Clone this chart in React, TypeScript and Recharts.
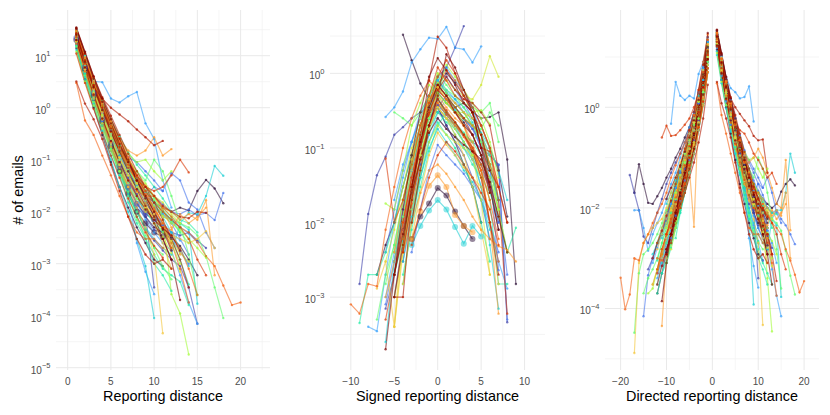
import { LineChart, Line, XAxis, YAxis, CartesianGrid } from "recharts";

const FONT = '"Liberation Sans", Arial, Helvetica, sans-serif';

// turbo palette, purple -> dark red
const turbo = [
  "#30123b", "#4145ab", "#4675ed", "#39a2fc", "#1bcfd4", "#24eca6", "#61fc6c", "#a4fc3b",
  "#d1e834", "#f3c63a", "#fe9b2d", "#f36315", "#d93806", "#b11901", "#7a0403",
];

// ---- panel 1: reporting distance 1, 2, 3, ...
const reporting: number[][] = [
  [18, 4.5, 1.4, 0.5, 0.2, 0.09, 0.05, 0.03, 0.02, 0.015, 0.012, 0.01, 0.012, 0.0105, 0.025, 0.041, 0.028, 0.0145],
  [28, 7.5, 2.2, 0.7, 0.22, 0.07, 0.025, 0.01, 0.0045, 0.0028, 0.0018, 0.0012, 0.0009, 0.00035, 0.00007],
  [22, 6, 2, 0.8, 0.35, 0.15, 0.08, 0.045, 0.03, 0.02, 0.014, 0.01, 0.009, 0.011, 0.0085, 0.0095, 0.0069, 0.023],
  [26, 9, 3.2, 3.1, 1.5, 1.26, 1.66, 2.0, 0.5, 0.25, 0.04, 0.012],
  [15, 4, 1.2, 0.35, 0.1, 0.03, 0.01, 0.003, 0.0009, 0.00009],
  [20, 5, 1.6, 0.5, 0.16, 0.05, 0.015, 0.006, 0.003, 0.0015, 0.0008, 0.0006, 0.00045, 0.00016],
  [24, 7, 2.4, 0.9, 0.4, 0.18, 0.09, 0.05, 0.03, 0.018, 0.012, 0.008, 0.006, 0.005, 0.0035, 0.0014, 0.00035, 0.00009],
  [30, 9, 3, 1.1, 0.45, 0.2, 0.1, 0.06, 0.035, 0.02, 0.008, 0.00026, 0.00011, 0.000018],
  [19, 5.5, 1.8, 0.6, 0.25, 0.1, 0.05, 0.03, 0.02, 0.012, 0.006, 0.002],
  [21, 6, 1.9, 0.65, 0.22, 0.08, 0.03, 0.012, 0.005, 0.0015, 0.000046],
  [25, 7.5, 2.6, 1.0, 0.45, 0.25, 0.15, 0.12, 0.15, 0.27, 0.12, 0.16],
  [17, 5, 1.7, 0.6, 0.22, 0.09, 0.04, 0.025, 0.02, 0.02, 0.012, 0.008, 0.005, 0.004, 0.0026, 0.0014, 0.0009, 0.00038, 0.00016, 0.00018],
  [23, 7, 2.4, 0.9, 0.35, 0.15, 0.07, 0.04, 0.03, 0.025, 0.03, 0.05, 0.1, 0.057],
  [20, 6, 2.5, 1.5, 1.0, 0.74, 0.55, 0.38, 0.27, 0.19, 0.23],
  [35, 12, 4, 1.5, 0.6, 0.25, 0.1, 0.04, 0.018, 0.008, 0.003, 0.0012, 0.0002],
  [14, 3.5, 1, 0.3, 0.09, 0.03, 0.012, 0.005, 0.0025, 0.0012, 0.0009],
  [25, 7, 2.3, 0.8, 0.3, 0.12, 0.05, 0.02, 0.009, 0.00035],
  [18, 5, 1.6, 0.55, 0.2, 0.09, 0.05, 0.03, 0.02, 0.03, 0.025, 0.055, 0.04, 0.015, 0.011, 0.004, 0.002],
  [32, 10, 3, 1.0, 0.35, 0.1, 0.02, 0.0025, 0.0007, 0.00026],
  [16, 4.5, 1.5, 0.6, 0.25, 0.1, 0.05, 0.03, 0.02, 0.012, 0.008, 0.007, 0.006, 0.0095, 0.009, 0.02, 0.076, 0.049],
  [22, 6.5, 2, 0.7, 0.25, 0.08, 0.025, 0.008, 0.003, 0.001, 0.0006, 0.0003],
  [27, 8, 2.8, 1.2, 0.5, 0.2, 0.1, 0.06, 0.04, 0.1, 0.06, 0.02, 0.006, 0.0015, 0.00025],
  [12, 3.2, 1.1, 0.4, 0.15, 0.06, 0.03, 0.018, 0.012, 0.008, 0.004, 0.0025, 0.001],
  [24, 7, 2.2, 0.75, 0.3, 0.14, 0.08, 0.04, 0.03, 0.02, 0.015, 0.009, 0.006],
  [28, 8.5, 3.2, 1.2, 0.5, 0.2, 0.08, 0.035, 0.015, 0.006, 0.0025, 0.0008],
  [20, 5, 1.5, 0.5, 0.18, 0.07, 0.03, 0.015, 0.01, 0.008, 0.012, 0.01, 0.007, 0.009, 0.007, 0.0166, 0.0006],
  [30, 9, 3.1, 1.2, 0.5, 0.22, 0.1, 0.05, 0.025, 0.012, 0.006, 0.0025, 0.0008, 0.00018],
  [26, 8, 2.7, 1.0, 0.4, 0.17, 0.08, 0.04, 0.02, 0.01, 0.005, 0.002],
  [3.2, 1.2, 0.6, 0.25, 0.08, 0.025, 0.008, 0.003, 0.0015, 0.001, 0.0012, 0.0008],
  [33, 11, 3.6, 1.3, 0.5, 0.2, 0.09, 0.04, 0.02, 0.01, 0.0045, 0.0018],
  [20, 6, 1.9, 0.6, 0.2, 0.07, 0.03, 0.015, 0.008, 0.005, 0.004, 0.003],
  [16, 4.5, 1.4, 0.45, 0.15, 0.06, 0.025, 0.012, 0.008, 0.0045, 0.004, 0.0035],
  [23, 6.5, 2.1, 0.8, 0.35, 0.18, 0.11, 0.09, 0.06, 0.04, 0.025],
  [27, 7.5, 2.5, 0.9, 0.3, 0.1, 0.035, 0.015, 0.007, 0.004, 0.0025, 0.0018, 0.0006, 0.00018, 0.00007],
  [13, 3.5, 1.1, 0.36, 0.12, 0.05, 0.022, 0.01, 0.005, 0.003, 0.002, 0.0015, 0.006, 0.0045, 0.00017],
  [29, 8.5, 2.9, 1.1, 0.45, 0.2, 0.09, 0.045, 0.025, 0.016, 0.011, 0.007, 0.004],
  [18, 5, 1.6, 0.5, 0.17, 0.06, 0.02, 0.007, 0.0035, 0.0021, 0.0015],
  [24, 7, 2.6, 1.05, 0.5, 0.25, 0.13, 0.09, 0.1, 0.06, 0.04, 0.06],
  [21, 6, 2, 0.7, 0.27, 0.11, 0.05, 0.025, 0.012, 0.006, 0.0033, 0.0016, 0.0007],
  [19, 5.5, 1.8, 0.6, 0.2, 0.08, 0.035, 0.02, 0.012, 0.01, 0.008, 0.007],
  [31, 9.5, 3.4, 1.3, 0.55, 0.25, 0.11, 0.05, 0.02, 0.009, 0.005, 0.0045, 0.009, 0.006, 0.008, 0.012],
  [3, 0.57, 0.3, 0.12, 0.05, 0.02, 0.008, 0.004, 0.003, 0.003, 0.002],
  [27, 8, 2.8, 1.1, 0.45, 0.2, 0.09, 0.045, 0.025, 0.015, 0.01, 0.007, 0.005, 0.003, 0.0012, 0.0006],
  [34, 11.5, 4, 1.6, 0.7, 0.3, 0.13, 0.06, 0.03, 0.015, 0.007, 0.003, 0.0012, 0.00035],
  [25, 7.5, 2.5, 0.9, 0.35, 0.14, 0.06, 0.027, 0.013, 0.006, 0.003, 0.0012],
  [20, 5.5, 1.7, 0.55, 0.18, 0.06, 0.022, 0.01, 0.006, 0.004, 0.0033],
  [22, 6, 1.9, 0.62, 0.2, 0.075, 0.03, 0.014, 0.009, 0.007],
  [17, 4.8, 1.5, 0.55, 0.22, 0.1, 0.05, 0.03, 0.018, 0.012, 0.009, 0.006, 0.003, 0.0015],
  [26, 8, 2.6, 0.95, 0.38, 0.16, 0.07, 0.032, 0.016, 0.009, 0.006, 0.004, 0.0028],
  [21, 6.2, 2.0, 0.72, 0.28, 0.12, 0.06, 0.035, 0.025, 0.015, 0.008, 0.004, 0.002, 0.0009],
  [30, 10, 3.5, 1.4, 0.6, 0.28, 0.14, 0.08, 0.05, 0.03, 0.018, 0.01, 0.007, 0.006, 0.004],
  [15, 4.2, 1.3, 0.45, 0.16, 0.06, 0.024, 0.01, 0.0045, 0.002, 0.0009, 0.0005],
  [24, 7.2, 2.4, 0.85, 0.33, 0.14, 0.065, 0.035, 0.02, 0.013, 0.0085, 0.006, 0.0045, 0.003, 0.002, 0.0013],
  [28, 9, 3.0, 1.1, 0.42, 0.17, 0.075, 0.035, 0.017, 0.009, 0.005, 0.0028, 0.0016, 0.0011],
  [19, 5.8, 1.9, 0.68, 0.26, 0.11, 0.05, 0.024, 0.013, 0.0075, 0.005, 0.0035, 0.003, 0.0025, 0.003, 0.0042, 0.002],
  [23, 6.8, 2.3, 0.82, 0.34, 0.16, 0.085, 0.05, 0.032, 0.02, 0.011, 0.005, 0.0015],
  [33, 11, 3.8, 1.45, 0.6, 0.26, 0.11, 0.048, 0.022, 0.011, 0.006, 0.0035, 0.002, 0.0008, 0.00025],
  [11, 3, 0.95, 0.33, 0.12, 0.045, 0.018, 0.008, 0.004, 0.0022, 0.0013],
  [27, 8.2, 2.7, 1.0, 0.4, 0.18, 0.09, 0.05, 0.03, 0.02, 0.013, 0.01, 0.008, 0.0075, 0.01, 0.0095],
  [20, 5.9, 1.8, 0.62, 0.23, 0.09, 0.04, 0.02, 0.011, 0.007, 0.0048, 0.0035, 0.0018],
  [25, 7.6, 2.5, 0.9, 0.36, 0.15, 0.065, 0.03, 0.015, 0.0085, 0.005, 0.0032, 0.0022, 0.0012, 0.0006],
  [18, 5.2, 1.7, 0.6, 0.24, 0.1, 0.045, 0.022, 0.012, 0.008, 0.0055, 0.004, 0.0035, 0.004, 0.0028, 0.002],
  [31, 9.8, 3.3, 1.2, 0.47, 0.2, 0.085, 0.04, 0.02, 0.01, 0.0055, 0.003, 0.0017, 0.001],
  [22, 6.6, 2.2, 0.8, 0.32, 0.14, 0.065, 0.034, 0.02, 0.013, 0.009, 0.0068, 0.005, 0.0038, 0.0026],
  [29, 9.2, 3.1, 1.15, 0.46, 0.19, 0.085, 0.042, 0.024, 0.015, 0.01, 0.007, 0.0048],
  [16, 4.6, 1.45, 0.5, 0.19, 0.08, 0.036, 0.018, 0.01, 0.006, 0.0042, 0.003, 0.0012, 0.0004],
  [26, 7.9, 2.65, 0.98, 0.4, 0.18, 0.088, 0.046, 0.026, 0.016, 0.01, 0.0065, 0.004, 0.0025],
];
const reportingBig = [45, 46];

// ---- panel 2: signed reporting distance, each series starts at `from`
const signed: { from: number; v: number[] }[] = [
  { from: -4, v: [3.3, 1.5, 0.73, 0.45, 0.35, 0.2, 0.12, 0.06, 0.03, 0.01] },
  { from: -9, v: [0.0015, 0.013, 0.043, 0.076, 0.15, 0.19, 0.25, 0.3, 0.35, 0.3, 0.25, 0.2, 0.15, 0.12, 0.1, 0.08, 0.059, 0.00046] },
  { from: -6, v: [0.004, 0.015, 0.05, 0.12, 0.25, 0.5, 0.8, 0.55, 0.4, 0.3, 0.2, 0.1, 0.06, 0.0023] },
  { from: -6, v: [0.26, 0.35, 0.57, 1.4, 2.1, 3.0, 2.9, 4.2, 2.2, 2.1, 1.4, 2.3] },
  { from: -3, v: [0.005, 0.009, 0.0145, 0.02, 0.015, 0.0087, 0.0052, 0.009, 0.0065] },
  { from: -9, v: [0.00045, 0.002, 0.002, 0.004, 0.01, 0.03, 0.08, 0.2, 0.35, 0.5, 0.25, 0.15, 0.1, 0.06, 0.04, 0.025, 0.012, 0.004, 0.0085] },
  { from: -5, v: [0.3, 0.25, 0.2, 0.3, 0.5, 0.9, 0.6, 0.5, 0.4, 0.35, 0.3, 0.4, 0.12] },
  { from: -6, v: [0.018, 0.015, 0.05, 0.2, 0.4, 0.7, 0.5, 0.4, 0.3, 0.25, 0.3, 0.32, 0.21] },
  { from: -5, v: [0.0004, 0.005, 0.03, 0.15, 0.5, 1.0, 0.8, 0.6, 0.5, 0.45, 0.7, 1.7, 0.9] },
  { from: -7, v: [0.0013, 0.003, 0.0004, 0.01, 0.05, 0.2, 0.45, 0.35, 0.25, 0.15, 0.08, 0.03, 0.008, 0.002] },
  { from: -3, v: [0.006, 0.014, 0.031, 0.043, 0.03, 0.0126, 0.009, 0.0074] },
  { from: -10, v: [0.0008, 0.0006, 0.0015, 0.0014, 0.008, 0.03, 0.1, 0.25, 0.5, 0.8, 0.6, 0.45, 0.3, 0.2, 0.1, 0.05, 0.01, 0.003] },
  { from: -6, v: [0.072, 0.01, 0.02, 0.06, 0.2, 0.5, 1.2, 0.8, 0.5, 0.4, 0.3, 0.1, 0.09, 0.03, 0.01] },
  { from: -5, v: [0.001, 0.001, 0.02, 0.15, 0.8, 3.1, 2.2, 1.0, 0.5, 0.3, 0.1, 0.05, 0.03, 0.01] },
  { from: -6, v: [0.0002, 0.002, 0.015, 0.08, 0.3, 0.9, 1.6, 1.1, 0.7, 0.4, 0.3, 0.1, 0.03, 0.008] },
  { from: -7, v: [0.002, 0.005, 0.01, 0.03, 0.08, 0.2, 0.45, 0.6, 0.45, 0.35, 0.4, 0.3, 0.25, 0.26, 0.3, 0.07, 0.0015] },
  { from: -3, v: [0.05, 0.2, 0.5, 0.9, 1.2, 2.2, 4.3] },
  { from: -5, v: [0.003, 0.01, 0.04, 0.12, 0.3, 0.45, 0.3, 0.2, 0.15, 0.1, 0.06, 0.05, 0.02, 0.002] },
  { from: -8, v: [0.0004, 0.00035, 0.002, 0.01, 0.04, 0.12, 0.3, 0.5, 0.35, 0.25, 0.18, 0.12, 0.07, 0.03, 0.01, 0.003, 0.0013] },
  { from: -6, v: [0.00025, 0.003, 0.02, 0.06, 0.15, 0.25, 0.35, 0.25, 0.2, 0.12, 0.08, 0.03, 0.005, 0.0007] },
  { from: -5, v: [0.002, 0.006, 0.02, 0.07, 0.18, 0.3, 0.22, 0.18, 0.12, 0.08, 0.05, 0.02, 0.0015, 0.0015] },
  { from: -7, v: [0.0005, 0.002, 0.005, 0.02, 0.06, 0.15, 0.35, 0.7, 0.5, 0.35, 0.25, 0.2, 0.15, 0.08, 0.02] },
  { from: -4, v: [0.006, 0.03, 0.1, 0.3, 0.55, 0.4, 0.3, 0.3, 0.2, 0.15, 0.05] },
  { from: -6, v: [0.003, 0.008, 0.03, 0.1, 0.25, 0.45, 0.65, 0.45, 0.35, 0.2, 0.08, 0.02, 0.002] },
  { from: -5, v: [0.0004, 0.004, 0.025, 0.08, 0.2, 0.35, 0.25, 0.2, 0.15, 0.1, 0.04, 0.01, 0.0015] },
  { from: -4, v: [0.004, 0.01, 0.025, 0.05, 0.06, 0.045, 0.03, 0.02, 0.012, 0.008, 0.006, 0.0048, 0.0043, 0.003] },
  { from: -5, v: [0.002, 0.008, 0.03, 0.1, 0.3, 0.6, 0.45, 0.3, 0.25, 0.2, 0.15, 0.03, 0.012] },
  { from: -4, v: [0.006, 0.03, 0.12, 0.4, 0.9, 1.5, 1.0, 0.6, 0.35, 0.2, 0.1, 0.02, 0.0006] },
  { from: -3, v: [0.03, 0.1, 0.3, 0.6, 0.9, 0.6, 0.45, 0.4, 0.3, 0.2, 0.05] },
  { from: -5, v: [0.001, 0.005, 0.03, 0.12, 0.35, 0.7, 0.5, 0.3, 0.2, 0.15, 0.08, 0.025] },
  { from: -3, v: [0.006, 0.012, 0.018, 0.029, 0.023, 0.014, 0.009, 0.006] },
  { from: -6, v: [0.0007, 0.002, 0.008, 0.03, 0.1, 0.25, 0.35, 0.2, 0.12, 0.08, 0.04, 0.02, 0.006] },
  { from: -4, v: [0.015, 0.04, 0.1, 0.25, 0.45, 0.9, 0.6, 0.4, 0.25, 0.15, 0.08, 0.06, 0.0005] },
  { from: -5, v: [0.02, 0.06, 0.12, 0.25, 0.5, 0.8, 1.2, 0.8, 0.6, 0.35, 0.15] },
  { from: -3, v: [0.015, 0.04, 0.1, 0.18, 0.12, 0.08, 0.05, 0.035, 0.02, 0.008] },
  { from: -4, v: [0.0015, 0.01, 0.04, 0.12, 0.22, 0.15, 0.1, 0.06, 0.03, 0.01, 0.003] },
  { from: -2, v: [0.08, 0.25, 0.45, 0.3, 0.2, 0.15, 0.12, 0.18, 0.3, 0.2] },
  { from: -5, v: [0.004, 0.012, 0.06, 0.2, 0.4, 0.75, 0.55, 0.4, 0.3, 0.2, 0.12, 0.06, 0.015] },
  { from: -3, v: [0.02, 0.07, 0.18, 0.35, 0.25, 0.18, 0.12, 0.07, 0.04] },
  { from: -4, v: [0.0015, 0.01, 0.05, 0.18, 0.4, 0.3, 0.22, 0.15, 0.1, 0.05, 0.02] },
  { from: -6, v: [0.001, 0.003, 0.01, 0.04, 0.12, 0.3, 0.5, 0.35, 0.25, 0.2, 0.12, 0.05, 0.01, 0.0006] },
  { from: -4, v: [0.01, 0.04, 0.15, 0.4, 0.7, 1.1, 0.8, 0.5, 0.3, 0.15, 0.06, 0.03] },
  { from: -3, v: [0.005, 0.015, 0.04, 0.08, 0.12, 0.09, 0.06, 0.04, 0.025, 0.015, 0.005] },
  { from: -4, v: [0.004, 0.02, 0.07, 0.2, 0.45, 0.3, 0.22, 0.15, 0.09, 0.04, 0.01, 0.002] },
  { from: -3, v: [0.01, 0.05, 0.2, 0.5, 1.8, 1.2, 0.6, 0.3, 0.15, 0.05] },
  { from: -5, v: [0.002, 0.01, 0.04, 0.12, 0.3, 0.55, 0.4, 0.3, 0.22, 0.15, 0.08, 0.03, 0.008] },
  { from: -4, v: [0.003, 0.015, 0.06, 0.18, 0.35, 0.5, 0.35, 0.25, 0.18, 0.12, 0.06, 0.02] },
  { from: -6, v: [0.0008, 0.003, 0.012, 0.05, 0.15, 0.35, 0.6, 0.45, 0.35, 0.25, 0.18, 0.1, 0.04, 0.01] },
  { from: -3, v: [0.01, 0.04, 0.12, 0.25, 0.18, 0.14, 0.1, 0.07, 0.05, 0.03, 0.012] },
  { from: -5, v: [0.003, 0.012, 0.05, 0.15, 0.4, 0.8, 0.55, 0.45, 0.35, 0.22, 0.12, 0.05] },
  { from: -4, v: [0.002, 0.008, 0.03, 0.09, 0.2, 0.3, 0.22, 0.16, 0.12, 0.08, 0.04, 0.015, 0.004] },
  { from: -6, v: [0.0015, 0.005, 0.02, 0.07, 0.2, 0.45, 1.0, 0.7, 0.5, 0.35, 0.25, 0.15, 0.06, 0.015] },
  { from: -4, v: [0.005, 0.02, 0.08, 0.25, 0.6, 1.3, 0.9, 0.6, 0.4, 0.25, 0.12, 0.04] },
  { from: -5, v: [0.001, 0.004, 0.015, 0.05, 0.12, 0.2, 0.15, 0.12, 0.1, 0.08, 0.06, 0.04, 0.015, 0.004] },
  { from: -3, v: [0.006, 0.025, 0.08, 0.16, 0.11, 0.08, 0.055, 0.04, 0.03, 0.015] },
  { from: -5, v: [0.004, 0.02, 0.07, 0.2, 0.45, 0.65, 0.5, 0.4, 0.3, 0.25, 0.2, 0.1, 0.03] },
  { from: -4, v: [0.004, 0.018, 0.07, 0.2, 0.4, 0.28, 0.2, 0.14, 0.09, 0.05, 0.02, 0.006] },
  { from: -6, v: [0.0005, 0.002, 0.01, 0.04, 0.12, 0.28, 0.45, 0.32, 0.22, 0.15, 0.1, 0.06, 0.025] },
  { from: -3, v: [0.03, 0.12, 0.35, 0.7, 0.5, 0.35, 0.25, 0.15, 0.08, 0.03] },
  { from: -5, v: [0.002, 0.007, 0.025, 0.07, 0.16, 0.25, 0.18, 0.14, 0.11, 0.09, 0.07, 0.035, 0.012, 0.004] },
  { from: -4, v: [0.008, 0.03, 0.1, 0.3, 0.7, 1.0, 0.75, 0.5, 0.35, 0.2, 0.1, 0.05, 0.012] },
  { from: -5, v: [0.001, 0.006, 0.025, 0.08, 0.2, 0.38, 0.28, 0.2, 0.15, 0.1, 0.06, 0.03, 0.01] },
  { from: -3, v: [0.004, 0.015, 0.05, 0.11, 0.08, 0.06, 0.045, 0.03, 0.02, 0.01, 0.004] },
  { from: -6, v: [0.001, 0.004, 0.015, 0.05, 0.15, 0.4, 0.8, 0.6, 0.45, 0.3, 0.2, 0.12, 0.05, 0.02] },
  { from: -4, v: [0.003, 0.012, 0.05, 0.15, 0.3, 0.45, 0.32, 0.24, 0.2, 0.16, 0.1, 0.05, 0.02] },
];
const signedBig = [4, 10, 30];

// ---- panel 3: directed distance, left = outermost .. -1, right = 1 .. outermost
const directed: { left: number[]; right: number[] }[] = [
  { left: [0.02, 0.074, 0.03, 0.0126, 0.012, 0.017, 0.025, 0.04, 0.06, 0.1, 0.15, 0.25, 0.4, 0.8, 2, 6, 20], right: [25, 8, 2.5, 0.9, 0.35, 0.15, 0.07, 0.04, 0.025, 0.02, 0.015, 0.012, 0.01, 0.012, 0.021, 0.03, 0.037, 0.028] },
  { left: [0.045, 0.02, 0.009, 0.0027, 0.002, 0.004, 0.008, 0.015, 0.03, 0.05, 0.08, 0.12, 0.2, 0.35, 0.7, 1.5, 4, 15], right: [28, 9, 3, 1, 0.35, 0.12, 0.045, 0.018, 0.008, 0.004, 0.0025, 0.0015] },
  { left: [0.00007, 0.00046, 0.001, 0.002, 0.004, 0.008, 0.015, 0.03, 0.06, 0.1, 0.2, 0.5, 1.2, 3.5, 12], right: [22, 7, 2.5, 1.0, 0.45, 0.2, 0.1, 0.06, 0.035, 0.022, 0.015, 0.01, 0.008, 0.009, 0.006, 0.0045, 0.003, 0.0019] },
  { left: [0.47, 3.2, 1.7, 1.4, 1.7, 1.5, 4.6, 8, 25], right: [30, 10, 4, 2.4, 2.0, 1.5, 1.6, 2.6, 0.52] },
  { left: [0.0003, 0.0008, 0.002, 0.004, 0.008, 0.02, 0.05, 0.12, 0.35, 1.0, 3.5, 14], right: [20, 6, 1.8, 0.6, 0.2, 0.07, 0.025, 0.006, 0.00012] },
  { left: [0.0008, 0.0016, 0.004, 0.01, 0.025, 0.06, 0.15, 0.5, 2, 9], right: [18, 5, 1.5, 0.5, 0.16, 0.05, 0.015, 0.006, 0.003, 0.0015, 0.0008, 0.0005, 0.0003] },
  { left: [0.000033, 0.0005, 0.0012, 0.0015, 0.002, 0.003, 0.005, 0.009, 0.015, 0.03, 0.06, 0.12, 0.25, 0.5, 1.3, 4, 16], right: [24, 7, 2.5, 1.0, 0.45, 0.2, 0.1, 0.05, 0.03, 0.02, 0.012, 0.008, 0.006, 0.005, 0.0035, 0.0014, 0.00045, 0.00019] },
  { left: [0.0002, 0.00025, 0.0006, 0.0015, 0.003, 0.006, 0.012, 0.025, 0.05, 0.1, 0.25, 0.7, 2.5, 12], right: [30, 9, 3, 1.1, 0.45, 0.2, 0.1, 0.05, 0.03, 0.015, 0.006, 0.0004, 0.000035] },
  { left: [0.006, 0.015, 0.04, 0.1, 0.3, 1.0, 3, 10], right: [19, 5.5, 1.8, 0.6, 0.25, 0.1, 0.05, 0.03, 0.02, 0.012, 0.006] },
  { left: [0.000013, 0.0008, 0.002, 0.003, 0.004, 0.005, 0.006, 0.01, 0.02, 0.04, 0.08, 0.15, 0.3, 0.6, 1.5, 5, 18], right: [21, 6, 2, 0.7, 0.25, 0.09, 0.035, 0.014, 0.006, 0.002, 0.000047] },
  { left: [0.000045, 0.001, 0.003, 0.006, 0.015, 0.03, 0.06, 0.0042, 0.9, 4, 18], right: [25, 7.5, 2.6, 1.0, 0.45, 0.22, 0.12, 0.08, 0.1, 0.15, 0.1, 0.05, 0.025, 0.012, 0.01, 0.09, 0.0036] },
  { left: [0.00041, 0.000096, 0.00019, 0.001, 0.0009, 0.002, 0.003, 0.005, 0.008, 0.012, 0.02, 0.04, 0.07, 0.12, 0.2, 0.35, 0.7, 1.5, 4, 14], right: [17, 5, 1.7, 0.6, 0.22, 0.09, 0.04, 0.025, 0.02, 0.02, 0.012, 0.008, 0.005, 0.004, 0.003, 0.0015, 0.0009, 0.00047, 0.00021, 0.00035] },
  { left: [0.25, 0.43, 0.27, 0.28, 0.35, 0.45, 0.6, 1.0, 2.0, 5, 22], right: [23, 7, 2.4, 0.9, 0.5, 0.35, 0.3, 0.2, 0.12, 0.09, 0.06, 0.04, 0.05, 0.03] },
  { left: [0.0012, 0.003, 0.006, 0.01, 0.02, 0.04, 0.08, 0.2, 0.6, 2.8], right: [20, 6, 2.5, 1.5, 1.0, 0.74, 0.55, 0.42, 0.27, 0.22, 0.23, 0.05] },
  { left: [0.00014, 0.0008, 0.003, 0.008, 0.02, 0.05, 0.12, 0.3, 1.0, 4, 30], right: [35, 12, 4, 1.5, 0.6, 0.25, 0.1, 0.04, 0.018, 0.008, 0.003, 0.0012, 0.0003] },
  { left: [0.002, 0.005, 0.012, 0.03, 0.08, 0.2, 0.6, 2, 8], right: [14, 3.5, 1.0, 0.3, 0.09, 0.03, 0.012, 0.005, 0.0025, 0.0012, 0.0009] },
  { left: [0.0005, 0.001, 0.0025, 0.005, 0.012, 0.025, 0.05, 0.1, 0.25, 0.7, 2.5, 10], right: [25, 7, 2.3, 0.8, 0.3, 0.12, 0.05, 0.02, 0.009, 0.0004] },
  { left: [0.005, 0.01, 0.02, 0.04, 0.08, 0.15, 0.3, 0.7, 2, 7], right: [18, 5, 1.6, 0.55, 0.2, 0.09, 0.05, 0.03, 0.02, 0.03, 0.025, 0.04, 0.02, 0.008, 0.005] },
  { left: [0.009, 0.009, 0.004, 0.0014, 0.003, 0.005, 0.008, 0.015, 0.03, 0.05, 0.1, 0.2, 0.4, 0.8, 2, 6, 20], right: [32, 10, 3, 1.0, 0.35, 0.1, 0.02, 0.0025, 0.0007, 0.00026] },
  { left: [0.0012, 0.002, 0.003, 0.005, 0.01, 0.02, 0.04, 0.08, 0.15, 0.35, 0.9, 3, 11], right: [16, 4.5, 1.5, 0.6, 0.25, 0.1, 0.05, 0.03, 0.02, 0.012, 0.008, 0.007, 0.006, 0.009, 0.009, 0.02, 0.12, 0.05] },
  { left: [0.0025, 0.008, 0.02, 0.05, 0.12, 0.35, 1.1, 5], right: [22, 6.5, 2, 0.7, 0.25, 0.08, 0.025, 0.008, 0.003, 0.001, 0.0006, 0.0003] },
  { left: [0.0002, 0.0004, 0.0006, 0.001, 0.002, 0.004, 0.008, 0.02, 0.04, 0.08, 0.18, 0.4, 1, 3, 12], right: [27, 8, 2.8, 1.2, 0.5, 0.2, 0.1, 0.06, 0.04, 0.1, 0.06, 0.02, 0.006, 0.0015, 0.00025] },
  { left: [0.01, 0.02, 0.04, 0.08, 0.15, 0.3, 0.7, 2.2, 9], right: [12, 3.2, 1.1, 0.4, 0.15, 0.06, 0.03, 0.018, 0.012, 0.008, 0.004, 0.0025, 0.001] },
  { left: [0.002, 0.004, 0.008, 0.015, 0.03, 0.06, 0.12, 0.25, 0.5, 1.0, 3, 13], right: [24, 7, 2.2, 0.75, 0.3, 0.14, 0.08, 0.04, 0.03, 0.02, 0.015, 0.009, 0.006] },
  { left: [0.003, 0.004, 0.006, 0.012, 0.03, 0.07, 0.18, 0.5, 1.6, 7], right: [28, 8.5, 3.2, 1.2, 0.5, 0.2, 0.08, 0.035, 0.015, 0.006, 0.0025, 0.0008] },
  { left: [0.0003, 0.0006, 0.0015, 0.003, 0.006, 0.012, 0.025, 0.05, 0.1, 0.2, 0.5, 1.5, 6], right: [20, 5, 1.5, 0.5, 0.18, 0.07, 0.03, 0.015, 0.01, 0.008, 0.012, 0.01, 0.007, 0.009, 0.007, 0.02, 0.001] },
  { left: [0.001, 0.0009, 0.0012, 0.003, 0.008, 0.02, 0.05, 0.12, 0.3, 0.8, 2.5, 11], right: [30, 9, 3.1, 1.2, 0.5, 0.22, 0.1, 0.05, 0.025, 0.012, 0.006, 0.0025, 0.0008, 0.00018] },
  { left: [0.004, 0.008, 0.015, 0.03, 0.07, 0.15, 0.4, 1.3, 6], right: [26, 8, 2.7, 1.0, 0.4, 0.17, 0.08, 0.04, 0.02, 0.01, 0.005, 0.002] },
  { left: [0.0003, 0.0007, 0.0015, 0.003, 0.008, 0.02, 0.05, 0.12, 0.3, 0.8, 2.5, 9], right: [3.2, 1.2, 0.6, 0.25, 0.08, 0.025, 0.008, 0.003, 0.0015, 0.001, 0.0012, 0.0008] },
  { left: [0.0015, 0.003, 0.006, 0.012, 0.025, 0.06, 0.15, 0.45, 1.8, 9], right: [33, 11, 3.6, 1.3, 0.5, 0.2, 0.09, 0.04, 0.02, 0.01, 0.0045, 0.0018] },
  { left: [0.01, 0.02, 0.05, 0.12, 0.35, 1.2, 5], right: [20, 6, 1.9, 0.6, 0.2, 0.07, 0.03, 0.015, 0.008, 0.005, 0.004, 0.003] },
  { left: [0.0006, 0.001, 0.002, 0.003, 0.006, 0.012, 0.025, 0.05, 0.1, 0.25, 0.6, 1.5, 4.5, 16], right: [16, 4.5, 1.4, 0.45, 0.15, 0.06, 0.025, 0.012, 0.008, 0.0045, 0.004, 0.0035] },
  { left: [0.001, 0.002, 0.004, 0.007, 0.012, 0.025, 0.05, 0.12, 0.35, 1.2, 5], right: [23, 6.5, 2.1, 0.8, 0.35, 0.18, 0.11, 0.09, 0.06, 0.04, 0.025] },
  { left: [0.006, 0.012, 0.025, 0.05, 0.1, 0.2, 0.4, 0.9, 2.5, 10], right: [27, 7.5, 2.5, 0.9, 0.3, 0.1, 0.035, 0.015, 0.007, 0.004, 0.0025, 0.0018, 0.0006, 0.00018, 0.00007] },
  { left: [0.0005, 0.0008, 0.002, 0.004, 0.008, 0.02, 0.05, 0.15, 0.5, 2, 8], right: [13, 3.5, 1.1, 0.36, 0.12, 0.05, 0.022, 0.01, 0.005, 0.003, 0.002, 0.0015, 0.006, 0.0045, 0.00017] },
  { left: [0.0002, 0.0005, 0.001, 0.002, 0.004, 0.009, 0.02, 0.05, 0.15, 0.5, 2, 10], right: [29, 8.5, 2.9, 1.1, 0.45, 0.2, 0.09, 0.045, 0.025, 0.016, 0.011, 0.007, 0.004] },
  { left: [0.02, 0.03, 0.05, 0.1, 0.2, 0.45, 1.4, 6], right: [18, 5, 1.6, 0.5, 0.17, 0.06, 0.02, 0.007, 0.0035, 0.0021, 0.0015] },
  { left: [0.0008, 0.002, 0.005, 0.012, 0.03, 0.08, 0.2, 0.6, 2, 8], right: [24, 7, 2.6, 1.05, 0.5, 0.25, 0.13, 0.09, 0.1, 0.06, 0.04, 0.06] },
  { left: [0.0015, 0.004, 0.01, 0.025, 0.06, 0.15, 0.4, 1.2, 5], right: [21, 6, 2, 0.7, 0.27, 0.11, 0.05, 0.025, 0.012, 0.006, 0.0033, 0.0016, 0.0007] },
  { left: [0.001, 0.0025, 0.005, 0.01, 0.02, 0.05, 0.12, 0.3, 0.8, 2.5, 10], right: [19, 5.5, 1.8, 0.6, 0.2, 0.08, 0.035, 0.02, 0.012, 0.01, 0.008, 0.007] },
  { left: [0.003, 0.006, 0.01, 0.02, 0.05, 0.12, 0.35, 1.1, 5], right: [31, 9.5, 3.4, 1.3, 0.55, 0.25, 0.11, 0.05, 0.02, 0.009, 0.005, 0.0045, 0.009, 0.006, 0.008, 0.012] },
  { left: [0.006, 0.015, 0.03, 0.07, 0.15, 0.4, 1.3, 5], right: [3, 0.7, 0.3, 0.12, 0.05, 0.02, 0.008, 0.004, 0.003, 0.003, 0.002] },
  { left: [0.0006, 0.0015, 0.003, 0.005, 0.01, 0.02, 0.04, 0.1, 0.25, 0.7, 2.5, 11], right: [27, 8, 2.8, 1.1, 0.45, 0.2, 0.09, 0.045, 0.025, 0.015, 0.01, 0.007, 0.005, 0.003, 0.0012, 0.0006] },
  { left: [0.002, 0.006, 0.015, 0.04, 0.1, 0.25, 0.7, 2.5, 12], right: [34, 11.5, 4, 1.6, 0.7, 0.3, 0.13, 0.06, 0.03, 0.015, 0.007, 0.003, 0.0012, 0.00035] },
  { left: [0.0012, 0.003, 0.008, 0.02, 0.05, 0.12, 0.3, 0.9, 3, 13], right: [25, 7.5, 2.5, 0.9, 0.35, 0.14, 0.06, 0.027, 0.013, 0.006, 0.003, 0.0012] },
  { left: [0.003, 0.006, 0.012, 0.025, 0.05, 0.1, 0.2, 0.45, 1.2, 4, 15], right: [22, 6.8, 2.3, 0.85, 0.35, 0.15, 0.07, 0.035, 0.02, 0.012, 0.008, 0.005] },
  { left: [0.0007, 0.0015, 0.004, 0.01, 0.025, 0.06, 0.15, 0.4, 1.3, 5, 20], right: [28, 9, 3, 1.1, 0.42, 0.17, 0.075, 0.035, 0.017, 0.009, 0.005, 0.0028, 0.0016] },
  { left: [0.008, 0.015, 0.03, 0.06, 0.12, 0.25, 0.5, 1.2, 3.5, 12], right: [19, 5.8, 1.9, 0.68, 0.26, 0.11, 0.05, 0.024, 0.013, 0.0075, 0.005, 0.0035] },
  { left: [0.0004, 0.001, 0.0025, 0.006, 0.015, 0.035, 0.08, 0.2, 0.5, 1.5, 6, 24], right: [33, 11, 3.8, 1.45, 0.6, 0.26, 0.11, 0.048, 0.022, 0.011, 0.006, 0.0035, 0.002, 0.0008] },
  { left: [0.012, 0.02, 0.035, 0.06, 0.12, 0.22, 0.45, 1.0, 2.5, 8], right: [11, 3, 0.95, 0.33, 0.12, 0.045, 0.018, 0.008, 0.004, 0.0022] },
  { left: [0.0009, 0.002, 0.004, 0.008, 0.015, 0.03, 0.07, 0.15, 0.35, 0.9, 2.8, 10], right: [27, 8.2, 2.7, 1.0, 0.4, 0.18, 0.09, 0.05, 0.03, 0.02, 0.013, 0.01, 0.008, 0.0075] },
  { left: [0.002, 0.005, 0.01, 0.022, 0.05, 0.11, 0.25, 0.6, 1.8, 7], right: [20, 5.9, 1.8, 0.62, 0.23, 0.09, 0.04, 0.02, 0.011, 0.007, 0.0048] },
  { left: [0.0003, 0.0006, 0.0012, 0.003, 0.007, 0.015, 0.035, 0.08, 0.18, 0.45, 1.3, 4.5, 17], right: [25, 7.6, 2.5, 0.9, 0.36, 0.15, 0.065, 0.03, 0.015, 0.0085, 0.005, 0.0032, 0.0022, 0.0012] },
  { left: [0.004, 0.009, 0.02, 0.045, 0.1, 0.22, 0.5, 1.3, 4, 14], right: [18, 5.2, 1.7, 0.6, 0.24, 0.1, 0.045, 0.022, 0.012, 0.008, 0.0055, 0.004] },
  { left: [0.0015, 0.003, 0.005, 0.009, 0.018, 0.04, 0.09, 0.2, 0.5, 1.5, 5.5, 22], right: [31, 9.8, 3.3, 1.2, 0.47, 0.2, 0.085, 0.04, 0.02, 0.01, 0.0055, 0.003] },
  { left: [0.006, 0.01, 0.018, 0.035, 0.07, 0.15, 0.35, 0.9, 3, 11], right: [22, 6.6, 2.2, 0.8, 0.32, 0.14, 0.065, 0.034, 0.02, 0.013, 0.009, 0.0068] },
  { left: [0.0005, 0.0012, 0.003, 0.007, 0.016, 0.04, 0.1, 0.25, 0.7, 2.2, 8, 28], right: [29, 9.2, 3.1, 1.15, 0.46, 0.19, 0.085, 0.042, 0.024, 0.015, 0.01, 0.007] },
  { left: [0.003, 0.006, 0.013, 0.03, 0.07, 0.17, 0.4, 1.0, 3, 9], right: [16, 4.6, 1.45, 0.5, 0.19, 0.08, 0.036, 0.018, 0.01, 0.006, 0.0042, 0.003, 0.0012] },
  { left: [0.001, 0.002, 0.0035, 0.007, 0.014, 0.03, 0.065, 0.15, 0.35, 0.8, 2.2, 7, 25], right: [26, 7.9, 2.65, 0.98, 0.4, 0.18, 0.088, 0.046, 0.026, 0.016, 0.01, 0.0065] },
  { left: [0.015, 0.025, 0.04, 0.07, 0.13, 0.25, 0.55, 1.4, 4.5, 16], right: [17, 4.8, 1.5, 0.55, 0.22, 0.1, 0.05, 0.03, 0.018, 0.012, 0.009, 0.006] },
  { left: [0.0002, 0.0005, 0.0013, 0.003, 0.007, 0.017, 0.04, 0.1, 0.28, 0.8, 2.8, 11], right: [26, 8, 2.6, 0.95, 0.38, 0.16, 0.07, 0.032, 0.016, 0.009, 0.006, 0.004] },
  { left: [0.005, 0.008, 0.014, 0.025, 0.05, 0.1, 0.22, 0.55, 1.6, 6], right: [21, 6.2, 2.0, 0.72, 0.28, 0.12, 0.06, 0.035, 0.025, 0.015, 0.008, 0.004] },
  { left: [0.001, 0.0025, 0.006, 0.014, 0.035, 0.09, 0.25, 0.7, 2.5, 10], right: [30, 10, 3.5, 1.4, 0.6, 0.28, 0.14, 0.08, 0.05, 0.03, 0.018, 0.01] },
  { left: [0.0008, 0.0016, 0.003, 0.006, 0.012, 0.025, 0.055, 0.12, 0.3, 0.75, 2, 6.5, 21], right: [15, 4.2, 1.3, 0.45, 0.16, 0.06, 0.024, 0.01, 0.0045, 0.002, 0.0009] },
  { left: [0.0025, 0.005, 0.01, 0.02, 0.045, 0.1, 0.24, 0.6, 1.7, 5.5, 19], right: [24, 7.2, 2.4, 0.85, 0.33, 0.14, 0.065, 0.035, 0.02, 0.013, 0.0085, 0.006] },
];

// axis breaks
const p1XMajor = [0, 5, 10, 15, 20];
const p1XMinor = [2.5, 7.5, 12.5, 17.5, 22.5];
const p1YExp = [1, 0, -1, -2, -3, -4, -5];
const p1YMinorExp = [1.5, 0.5, -0.5, -1.5, -2.5, -3.5, -4.5];

const p2XMajor = [-10, -5, 0, 5, 10];
const p2XMinor = [-7.5, -2.5, 2.5, 7.5];
const p2YExp = [0, -1, -2, -3];
const p2YMinorExp = [0.5, -0.5, -1.5, -2.5, -3.5];

const p3XMajor = [-20, -10, 0, 10, 20];
const p3XMinor = [-15, -5, 5, 15];
const p3YExp = [0, -2, -4];
const p3YMinorExp = [1, -1, -3, -5];

type Pt = { x: number; y: number | null };
type Series = { key: string; c: number; big: boolean; pts: Pt[] };

const pow10 = (e: number) => Math.pow(10, e);
const minus = (n: number) => (n < 0 ? "\u2212" + Math.abs(n) : String(n));

const byColour = (a: Series, b: Series) => a.c - b.c;

const p1Series: Series[] = reporting
  .map((v, i) => ({ key: "r" + i, c: i % turbo.length, big: reportingBig.includes(i), pts: v.map((y, k) => ({ x: k + 1, y })) }))
  .sort(byColour);

const p2Series: Series[] = signed
  .map((s, i) => ({ key: "s" + i, c: i % turbo.length, big: signedBig.includes(i), pts: s.v.map((y, k) => ({ x: s.from + k, y })) }))
  .sort(byColour);

const p3Series: Series[] = directed
  .map((s, i) => ({
    key: "d" + i,
    c: i % turbo.length,
    big: false,
    pts: [
      ...s.left.map((y, k) => ({ x: k - s.left.length, y })),
      { x: 0, y: null },
      ...s.right.map((y, k) => ({ x: k + 1, y })),
    ],
  }))
  .sort(byColour);

const XTick = (props: any) => {
  const { x, y, payload } = props;
  return (
    <text x={x} y={y + 15} textAnchor="middle" fontSize={10} fill="#4d4d4d" fontFamily={FONT}>
      {minus(payload.value)}
    </text>
  );
};

const YTick = (props: any) => {
  const { x, y, payload } = props;
  const e = Math.round(Math.log10(payload.value));
  return (
    <text x={x - 5.5} y={y + 6} textAnchor="end" fontSize={10} fill="#4d4d4d" fontFamily={FONT}>
      10
      <tspan dy={-5.3} fontSize={7.5}>{minus(e)}</tspan>
    </text>
  );
};

type PanelProps = {
  left: number;
  width: number;
  axisWidth: number;
  right: number;
  series: Series[];
  xDomain: [number, number];
  xMajor: number[];
  xMinor: number[];
  yDomain: [number, number];
  yExp: number[];
  yMinorExp: number[];
};

function Panel({ left, width, axisWidth, right, series, xDomain, xMajor, xMinor, yDomain, yExp, yMinorExp }: PanelProps) {
  const yTicks = yExp.map(pow10);
  return (
    <div style={{ position: "absolute", left, top: 0 }}>
      <LineChart width={width} height={415} margin={{ top: 10, right, bottom: 0, left: 0 }}>
        <CartesianGrid stroke="#f0f0f0" strokeWidth={0.7} verticalValues={xMinor} horizontalValues={yMinorExp.map(pow10)} />
        <CartesianGrid stroke="#e9e9e9" strokeWidth={1} verticalValues={xMajor} horizontalValues={yTicks} />
        <XAxis
          type="number"
          dataKey="x"
          domain={xDomain}
          allowDataOverflow
          ticks={xMajor}
          interval={0}
          height={45}
          axisLine={false}
          tickLine={false}
          tickSize={0}
          tickMargin={0}
          tick={<XTick />}
        />
        <YAxis
          type="number"
          scale="log"
          domain={yDomain}
          allowDataOverflow
          ticks={yTicks}
          interval={0}
          width={axisWidth}
          axisLine={false}
          tickLine={false}
          tickSize={0}
          tickMargin={0}
          tick={<YTick />}
        />
        {series.map((s) => {
          const col = turbo[s.c];
          return (
            <Line
              key={s.key}
              data={s.pts}
              dataKey="y"
              type="linear"
              stroke={col}
              strokeOpacity={0.6}
              strokeWidth={1.2}
              dot={{ r: s.big ? 3 : 1.2, fill: col, fillOpacity: s.big ? 0.5 : 0.7, stroke: "none", strokeWidth: 0 }}
              activeDot={false}
              connectNulls={false}
              isAnimationActive={false}
            />
          );
        })}
      </LineChart>
    </div>
  );
}

export default function App() {
  return (
    <div style={{ position: "fixed", left: 0, top: 0, width: 830, height: 415, background: "#fff", fontFamily: FONT }}>
      <Panel
        left={0}
        width={275}
        axisWidth={56}
        right={5}
        series={p1Series}
        xDomain={[-1.35, 23.4]}
        xMajor={p1XMajor}
        xMinor={p1XMinor}
        yDomain={[pow10(-5.044), pow10(1.879)]}
        yExp={p1YExp}
        yMinorExp={p1YMinorExp}
      />
      <Panel
        left={280}
        width={270}
        axisWidth={50}
        right={5}
        series={p2Series}
        xDomain={[-12.4, 12.35]}
        xMajor={p2XMajor}
        xMinor={p2XMinor}
        yDomain={[pow10(-3.977), pow10(0.849)]}
        yExp={p2YExp}
        yMinorExp={p2YMinorExp}
      />
      <Panel
        left={555}
        width={270}
        axisWidth={50}
        right={6}
        series={p3Series}
        xDomain={[-23.4, 23.25]}
        xMajor={p3XMajor}
        xMinor={p3XMinor}
        yDomain={[pow10(-5.223), pow10(1.934)]}
        yExp={p3YExp}
        yMinorExp={p3YMinorExp}
      />
      <svg width={830} height={415} style={{ position: "absolute", left: 0, top: 0, pointerEvents: "none" }}>
        <text transform="translate(23,190) rotate(-90)" textAnchor="middle" fontSize={14.4} fill="#000" fontFamily={FONT}>
          # of emails
        </text>
        <text x={163} y={401} textAnchor="middle" fontSize={14.4} fill="#000" fontFamily={FONT}>
          Reporting distance
        </text>
        <text x={437.5} y={401} textAnchor="middle" fontSize={14.4} fill="#000" fontFamily={FONT}>
          Signed reporting distance
        </text>
        <text x={712} y={401} textAnchor="middle" fontSize={14.4} fill="#000" fontFamily={FONT}>
          Directed reporting distance
        </text>
      </svg>
    </div>
  );
}
